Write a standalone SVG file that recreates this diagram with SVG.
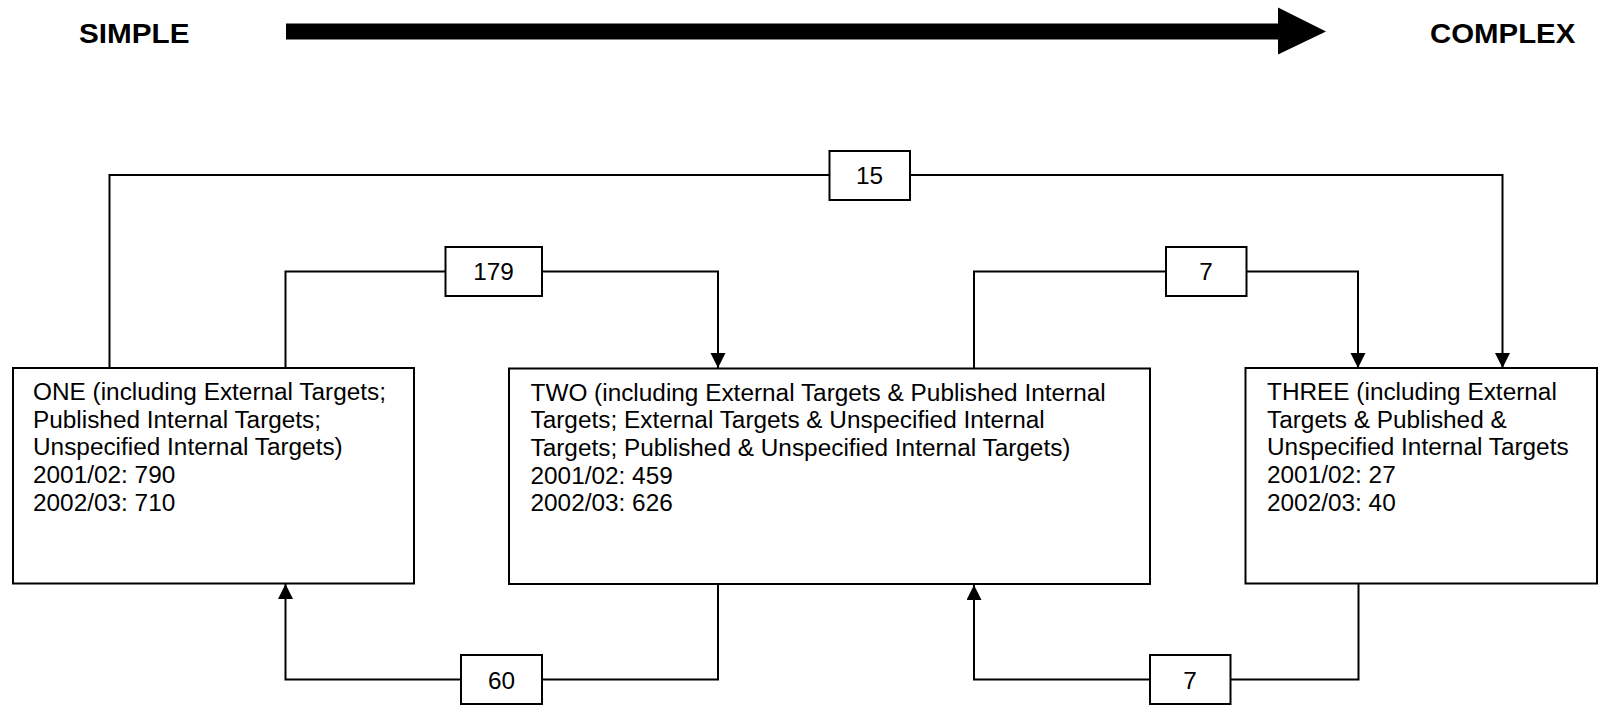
<svg xmlns="http://www.w3.org/2000/svg" width="1598" height="705" viewBox="0 0 1598 705">
<style>
  .box { fill: #ffffff; stroke: #000000; stroke-width: 2; }
  .line { fill: none; stroke: #000000; stroke-width: 2; }
  .txt { font-family: "Liberation Sans", Arial, sans-serif; font-size: 23px; fill: #000000; }
  .lbl { font-family: "Liberation Sans", Arial, sans-serif; font-size: 23px; fill: #000000; text-anchor: middle; }
  .head { font-family: "Liberation Sans", Arial, sans-serif; font-size: 28px; font-weight: bold; fill: #000000; }
</style>
<defs>
  <marker id="arr" markerUnits="userSpaceOnUse" markerWidth="16" markerHeight="16" refX="15" refY="7.5" orient="auto">
    <path d="M0,0 L15,7.5 L0,15 z" fill="#000000"/>
  </marker>
</defs>
<rect width="1598" height="705" fill="#ffffff"/>

<g id="header">
  <text class="head" transform="translate(79,43) scale(1.06,1)">SIMPLE</text>
  <rect x="286" y="23.5" width="993" height="16" fill="#000000"/>
  <polygon points="1278,7.5 1326,31.5 1278,54.5" fill="#000000"/>
  <text class="head" transform="translate(1430,43) scale(1.05,1)">COMPLEX</text>
</g>

<g id="connectors">
  <!-- ONE -> THREE (15) -->
  <polyline class="line" points="109.5,368 109.5,175 829,175"/>
  <polyline class="line" points="910,175 1502.5,175 1502.5,368" marker-end="url(#arr)"/>
  <g id="label-15">
    <rect class="box" x="829.5" y="151" width="80.5" height="49"/>
    <text class="lbl" transform="translate(869.5,184) scale(1.06,1)">15</text>
  </g>
  <!-- ONE -> TWO (179) -->
  <polyline class="line" points="285.5,368 285.5,271.5 445.5,271.5"/>
  <polyline class="line" points="542,271.5 718,271.5 718,368" marker-end="url(#arr)"/>
  <g id="label-179">
    <rect class="box" x="445.5" y="247" width="96.5" height="49"/>
    <text class="lbl" transform="translate(493.5,280) scale(1.06,1)">179</text>
  </g>
  <!-- TWO -> THREE (7) -->
  <polyline class="line" points="974,368 974,271.5 1166,271.5"/>
  <polyline class="line" points="1246.5,271.5 1358,271.5 1358,368" marker-end="url(#arr)"/>
  <g id="label-7-top">
    <rect class="box" x="1166" y="247" width="80.5" height="49"/>
    <text class="lbl" transform="translate(1206,280) scale(1.06,1)">7</text>
  </g>
  <!-- TWO -> ONE (60) -->
  <polyline class="line" points="718,584 718,679.5 542,679.5"/>
  <polyline class="line" points="461,679.5 285.5,679.5 285.5,584" marker-end="url(#arr)"/>
  <g id="label-60">
    <rect class="box" x="461" y="655" width="81" height="49"/>
    <text class="lbl" transform="translate(501.5,688.5) scale(1.06,1)">60</text>
  </g>
  <!-- THREE -> TWO (7) -->
  <polyline class="line" points="1358.5,583.5 1358.5,679.5 1230.5,679.5"/>
  <polyline class="line" points="1150,679.5 974,679.5 974,585" marker-end="url(#arr)"/>
  <g id="label-7-bottom">
    <rect class="box" x="1150" y="655" width="80.5" height="49"/>
    <text class="lbl" transform="translate(1190,688.5) scale(1.06,1)">7</text>
  </g>
</g>

<g id="node-one">
  <rect class="box" x="13" y="368" width="401" height="215.5"/>
  <text class="txt" transform="translate(33,400) scale(1.06,1)">
    <tspan x="0" y="0">ONE (including External Targets;</tspan>
    <tspan x="0" y="27.7">Published Internal Targets;</tspan>
    <tspan x="0" y="55.4">Unspecified Internal Targets)</tspan>
    <tspan x="0" y="83.1">2001/02: 790</tspan>
    <tspan x="0" y="110.8">2002/03: 710</tspan>
  </text>
</g>

<g id="node-two">
  <rect class="box" x="509" y="368.5" width="641" height="215.5"/>
  <text class="txt" transform="translate(530.5,400.5) scale(1.06,1)">
    <tspan x="0" y="0">TWO (including External Targets &amp; Published Internal</tspan>
    <tspan x="0" y="27.7">Targets; External Targets &amp; Unspecified Internal</tspan>
    <tspan x="0" y="55.4">Targets; Published &amp; Unspecified Internal Targets)</tspan>
    <tspan x="0" y="83.1">2001/02: 459</tspan>
    <tspan x="0" y="110.8">2002/03: 626</tspan>
  </text>
</g>

<g id="node-three">
  <rect class="box" x="1245.5" y="368" width="351.5" height="215.5"/>
  <text class="txt" transform="translate(1267,400) scale(1.06,1)">
    <tspan x="0" y="0">THREE (including External</tspan>
    <tspan x="0" y="27.7">Targets &amp; Published &amp;</tspan>
    <tspan x="0" y="55.4">Unspecified Internal Targets</tspan>
    <tspan x="0" y="83.1">2001/02: 27</tspan>
    <tspan x="0" y="110.8">2002/03: 40</tspan>
  </text>
</g>
</svg>
